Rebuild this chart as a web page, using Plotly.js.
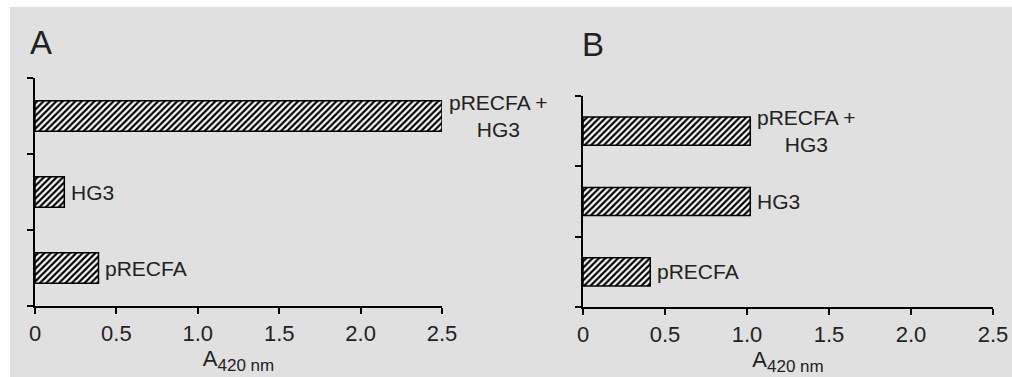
<!DOCTYPE html>
<html><head><meta charset="utf-8">
<script src="https://cdn.plot.ly/plotly-3.0.1.min.js"></script>
<style>
html,body{margin:0;padding:0;background:#ffffff;width:1012px;height:377px;overflow:hidden;}
#chart{position:absolute;left:10px;top:7px;width:1002px;height:370px;}
</style></head>
<body><div id="chart"></div>
<script>
// Data
var categories = ['pRECFA', 'HG3', 'pRECFA +<br>HG3'];
var valuesA = [0.39, 0.18, 2.5];
var valuesB = [0.41, 1.02, 1.02];
var xTickVals = [0, 0.5, 1.0, 1.5, 2.0, 2.5];
var xTickText = ['0', '0.5', '1.0', '1.5', '2.0', '2.5'];
var panelLetters = ['A', 'B'];
var axisTitle = 'A<sub><span style="font-size:17px">420 nm</span></sub>';

var FONT = 'Liberation Sans, Arial, sans-serif';
var INK = '#222222';
var pos = categories.map(function(_, i){ return i; });

function barTrace(vals, xa, ya){
  return {
    type: 'bar', orientation: 'h', x: vals, y: pos, xaxis: xa, yaxis: ya,
    width: 0.4,
    marker: {color: 'white', line: {color: '#000', width: 1.5},
      pattern: {shape: '/', fgcolor: '#000', bgcolor: '#fff', size: 4.5, solidity: 0.5}},
    hoverinfo: 'skip', showlegend: false
  };
}

function xAxis(dom, anchor){
  return {domain: dom, anchor: anchor, range: [0, 2.5], showgrid: false, zeroline: false,
    showline: true, linecolor: '#000', linewidth: 2, ticks: 'outside', ticklen: 6, tickwidth: 2,
    tickcolor: '#000', tickvals: xTickVals, ticktext: xTickText,
    tickfont: {family: FONT, size: 22, color: INK}, ticklabelstandoff: 1,
    title: {text: axisTitle, font: {family: FONT, size: 22, color: INK}, standoff: 1}};
}
function yAxis(dom, anchor){
  return {domain: dom, anchor: anchor, range: [-0.5, 2.5], showgrid: false, zeroline: false,
    showline: true, linecolor: '#000', linewidth: 2, ticks: 'outside', ticklen: 6, tickwidth: 2,
    tickcolor: '#000', tickvals: [-0.5, 0.5, 1.5, 2.5], showticklabels: false};
}

var W = 1002, H = 370;
function dx(a, b){ return [a / W, b / W]; }
function dy(top, bottom){ return [(H - bottom) / H, (H - top) / H]; }

var annotations = [];
function addLabels(vals, xa, ya){
  vals.forEach(function(v, i){
    annotations.push({x: v, y: i, xref: xa, yref: ya, text: categories[i], showarrow: false,
      xanchor: 'left', yanchor: 'middle', xshift: 5, yshift: 0, align: 'center',
      font: {family: FONT, size: 21, color: INK}});
  });
}
addLabels(valuesA, 'x', 'y');
addLabels(valuesB, 'x2', 'y2');
annotations.push({x: 18 / W, y: (H - 15) / H, xref: 'paper', yref: 'paper', text: panelLetters[0],
  showarrow: false, xanchor: 'left', yanchor: 'top', font: {family: FONT, size: 33, color: INK}});
annotations.push({x: 570 / W, y: (H - 17) / H, xref: 'paper', yref: 'paper', text: panelLetters[1],
  showarrow: false, xanchor: 'left', yanchor: 'top', font: {family: FONT, size: 33, color: INK}});

var layout = {
  width: W, height: H, margin: {l: 0, r: 0, t: 0, b: 0},
  paper_bgcolor: '#e0e0e0', plot_bgcolor: 'rgba(0,0,0,0)',
  xaxis: xAxis(dx(25, 432), 'y'),
  yaxis: yAxis(dy(71, 299), 'x'),
  xaxis2: xAxis(dx(573, 983), 'y2'),
  yaxis2: yAxis(dy(89, 300), 'x2'),
  annotations: annotations,
  font: {family: FONT, color: INK}
};

Plotly.newPlot('chart', [barTrace(valuesA, 'x', 'y'), barTrace(valuesB, 'x2', 'y2')], layout,
  {displayModeBar: false, staticPlot: true});
</script></body></html>
